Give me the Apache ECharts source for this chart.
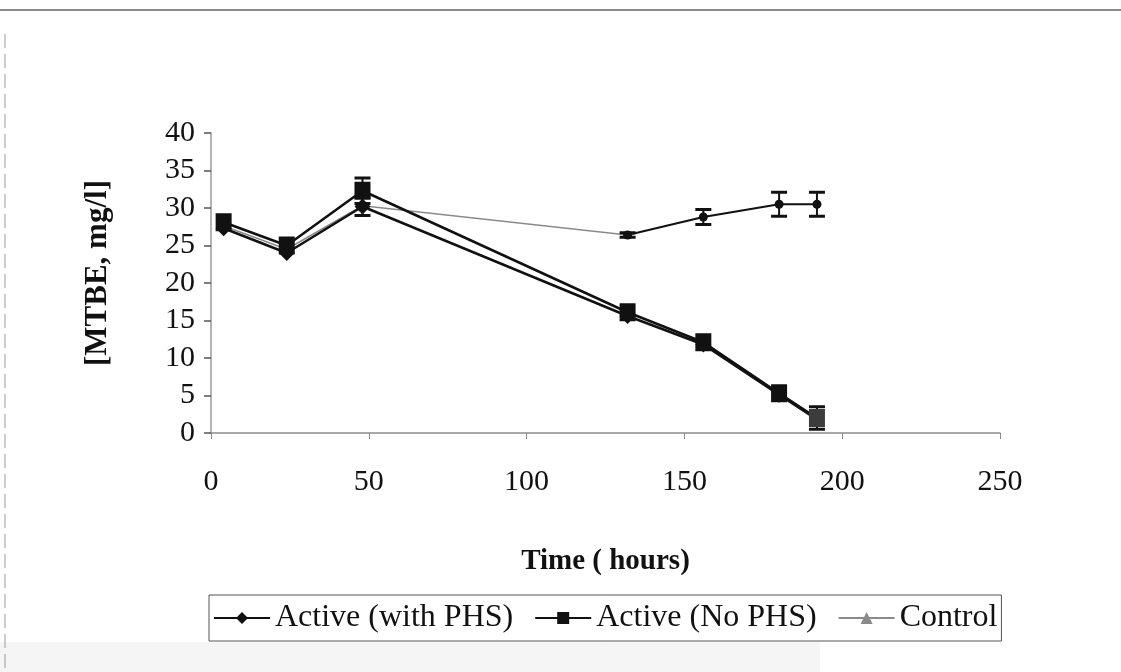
<!DOCTYPE html>
<html>
<head>
<meta charset="utf-8">
<script src="https://cdn.jsdelivr.net/npm/echarts@6/dist/echarts.min.js"></script>
<style>
  html, body { margin: 0; padding: 0; background: #ffffff; }
  #chart { width: 1121px; height: 672px; }
</style>
</head>
<body>
<div id="chart"></div>
<script>
// Sampling times (hours) and MTBE concentrations (mg/l)
const timeHours = [4, 24, 48, 132, 156, 180, 192];
const activeWithPHS = [27.3, 24.0, 30.2, 15.6, 11.8, 5.1, 1.8];
const activeNoPHS = [28.1, 25.0, 32.3, 16.1, 12.1, 5.3, 2.0];
const controlValues = [27.6, 24.5, 30.3, 26.4, 28.8, 30.5, 30.5];

// Standard deviations (0 = no bar drawn)
const errWithPHS = [0, 0, 1.2, 0, 0, 0, 0];
const errNoPHS = [0, 0, 1.7, 0, 0, 0, 1.5];
const errControl = [0, 0, 0, 0.3, 1.0, 1.6, 1.6];

const seriesNames = ['Active (with PHS)', 'Active (No PHS)', 'Control'];
const xTicks = [0, 50, 100, 150, 200, 250];
const yTicks = [0, 5, 10, 15, 20, 25, 30, 35, 40];

const FONT = 'Liberation Serif';
const INK = '#111111';

function pairs(values, from, to) {
  const out = [];
  for (let i = from; i < to; i++) out.push([timeHours[i], values[i]]);
  return out;
}

function errorData(values, errs) {
  return timeHours
    .map((t, i) => [t, values[i], errs[i]])
    .filter(d => d[2] > 0);
}

function renderErrorBar(params, api) {
  const x = api.value(0), y = api.value(1), e = api.value(2);
  const hi = api.coord([x, y + e]);
  const lo = api.coord([x, y - e]);
  const half = 8;
  const st = { stroke: INK, lineWidth: 2 };
  const cap = { stroke: INK, lineWidth: 3 };
  return {
    type: 'group',
    children: [
      { type: 'line', shape: { x1: hi[0], y1: hi[1], x2: lo[0], y2: lo[1] }, style: st },
      { type: 'line', shape: { x1: hi[0] - half, y1: hi[1], x2: hi[0] + half, y2: hi[1] }, style: cap },
      { type: 'line', shape: { x1: lo[0] - half, y1: lo[1], x2: lo[0] + half, y2: lo[1] }, style: cap }
    ]
  };
}

function errorSeries(values, errs, z) {
  return {
    type: 'custom',
    renderItem: renderErrorBar,
    encode: { x: 0, y: 1 },
    data: errorData(values, errs),
    z: z,
    silent: true
  };
}

const noPhsPoints = pairs(activeNoPHS, 0, timeHours.length).map((p, i) =>
  i === timeHours.length - 1 ? { value: p, itemStyle: { color: '#3c3c3c' } } : p);

const chart = echarts.init(document.getElementById('chart'), null, { renderer: 'canvas' });

chart.setOption({
  animation: false,
  backgroundColor: '#ffffff',
  textStyle: { fontFamily: FONT, color: INK },
  grid: { left: 211, right: 121, top: 133, bottom: 239, containLabel: false },
  graphic: [
    { type: 'rect', shape: { x: 0, y: 642, width: 820, height: 30 }, style: { fill: '#f5f5f5' }, z: -10 },
    { type: 'line', shape: { x1: 0, y1: 10, x2: 1121, y2: 10 }, style: { stroke: '#8a8a8a', lineWidth: 2 }, z: -5 },
    { type: 'line', shape: { x1: 5, y1: 34, x2: 5, y2: 672 }, style: { stroke: '#9a9a9a', lineWidth: 1, lineDash: [14, 6] }, z: -5 }
  ],
  legend: {
    data: seriesNames,
    left: 209,
    top: 595,
    padding: [7, 4, 7, 4],
    itemGap: 21,
    itemWidth: 56,
    itemHeight: 15,
    borderColor: '#555555',
    borderWidth: 1,
    textStyle: { fontFamily: FONT, fontSize: 32, color: INK }
  },
  xAxis: {
    type: 'value',
    min: xTicks[0],
    max: xTicks[xTicks.length - 1],
    interval: xTicks[1] - xTicks[0],
    name: 'Time ( hours)',
    nameLocation: 'middle',
    nameGap: 114,
    nameTextStyle: { fontFamily: FONT, fontSize: 29, fontWeight: 'bold', color: INK },
    axisLine: { show: true, lineStyle: { color: '#8c8c8c', width: 1.5 } },
    axisTick: { show: true, length: 6, lineStyle: { color: '#8c8c8c' } },
    axisLabel: { margin: 34, fontFamily: FONT, fontSize: 30, color: INK },
    splitLine: { show: false }
  },
  yAxis: {
    type: 'value',
    min: yTicks[0],
    max: yTicks[yTicks.length - 1],
    interval: yTicks[1] - yTicks[0],
    name: '[MTBE, mg/l]',
    nameLocation: 'middle',
    nameRotate: 90,
    nameGap: 98,
    nameTextStyle: { fontFamily: FONT, fontSize: 31, fontWeight: 'bold', color: INK, padding: [0, 0, 0, 20] },
    axisLine: { show: true, lineStyle: { color: '#9a9a9a', width: 1.5 } },
    axisTick: { show: true, length: 7, lineStyle: { color: '#555555', width: 1.5 } },
    axisLabel: { margin: 16, fontFamily: FONT, fontSize: 30, color: INK },
    splitLine: { show: false }
  },
  series: [
    {
      name: 'Control',
      type: 'line',
      data: pairs(controlValues, 0, 4),
      symbol: 'triangle',
      symbolSize: 8,
      lineStyle: { color: '#8a8a8a', width: 1.5 },
      itemStyle: { color: '#8a8a8a' },
      z: 2
    },
    {
      type: 'line',
      data: pairs(controlValues, 3, timeHours.length),
      symbol: 'circle',
      symbolSize: 9,
      lineStyle: { color: INK, width: 2 },
      itemStyle: { color: INK },
      z: 3
    },
    errorSeries(controlValues, errControl, 3),
    {
      name: 'Active (with PHS)',
      type: 'line',
      data: pairs(activeWithPHS, 0, timeHours.length),
      symbol: 'diamond',
      symbolSize: 16,
      lineStyle: { color: INK, width: 2.5 },
      itemStyle: { color: INK },
      z: 4
    },
    errorSeries(activeWithPHS, errWithPHS, 4),
    {
      name: 'Active (No PHS)',
      type: 'line',
      data: noPhsPoints,
      symbol: 'rect',
      symbolSize: [16, 18],
      lineStyle: { color: INK, width: 2.5 },
      itemStyle: { color: INK },
      z: 5
    },
    errorSeries(activeNoPHS, errNoPHS, 5)
  ]
});
</script>
</body>
</html>
